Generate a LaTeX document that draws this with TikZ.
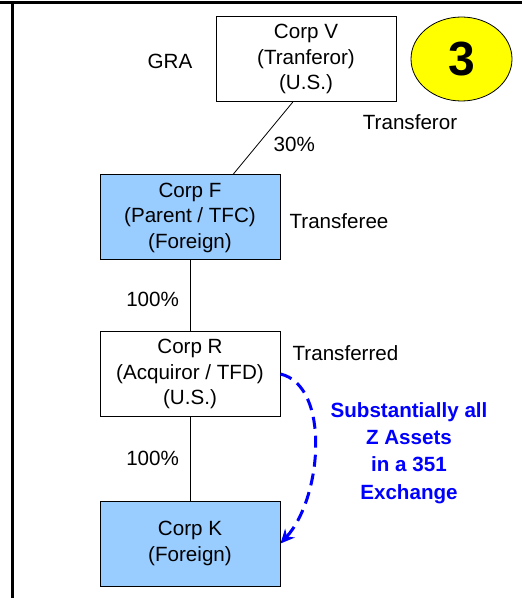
\documentclass[tikz,border=0pt]{standalone}
\usepackage{fontspec}
\setmainfont{Liberation Sans}
\usetikzlibrary{shapes.geometric,arrows.meta}
\definecolor{boxblue}{HTML}{99CCFF}
\definecolor{assetblue}{HTML}{0000FF}
\definecolor{badgeyellow}{HTML}{FFFF00}

\begin{document}
\begin{tikzpicture}[x=0.5pt, y=-0.5pt, node distance=80pt,
  every node/.style={font=\fontsize{10.3}{12.75}\selectfont},
  corp/.style={shape=rectangle, draw, line width=0.5pt, minimum width=90pt, minimum height=42.5pt, inner sep=0pt, align=center, execute at begin node=\rule{0pt}{10.4pt}},
  foreign/.style={corp, fill=boxblue}]
\useasboundingbox (0,0) rectangle (522,598);
\draw [line width=1.5pt] (0,3) -- (522,3);
\draw [line width=1.5pt] (12,3) -- (12,598);

\node [corp] (CorpV) at (306,59) {Corp V\\(Tranferor)\\(U.S.)};
\node [foreign] (CorpF) at (190,217.5) {Corp F\\(Parent / TFC)\\(Foreign)};
\node [corp, below of=CorpF, node distance=78.25pt] (CorpR) {Corp R\\(Acquiror / TFD)\\(U.S.)};
\node [foreign, below of=CorpR, node distance=84.75pt] (CorpK) {Corp K\\(Foreign)};

\node (GRA) at (170,61) {GRA};
\node [shape=ellipse, draw, fill=badgeyellow, minimum width=50.5pt, minimum height=42pt, inner sep=0pt, font=\fontsize{24}{28}\selectfont\bfseries] (Badge) at (461.5,59) {3};
\node (Transferor) at (410,122) {Transferor};
\node (Transferee) at (339,221.5) {Transferee};
\node (Transferred) at (345.5,353) {Transferred};
\node [text=assetblue, align=center, font=\fontsize{10.3}{13.65}\selectfont\bfseries, execute at begin node=\rule{0pt}{9.9pt}] (Assets) at (409,453) {Substantially all\\Z Assets\\in a 351\\Exchange};

\draw (CorpV.-107) -- node [pos=0.59, right=4.5pt] (Pct30) {30\%} (CorpF.45);
\draw (CorpF) -- node [pos=0.55, left=2pt] (PctF) {100\%} (CorpR);
\draw (CorpR) -- node [midway, left=2pt] (PctR) {100\%} (CorpK);
\draw [assetblue, line width=1.5pt, dash pattern=on 6pt off 3.5pt, -{Stealth[length=7pt, width=6.5pt]}] (CorpR.east) .. controls +(50,12) and +(42,-46) .. (CorpK.east);
\end{tikzpicture}
\end{document}
